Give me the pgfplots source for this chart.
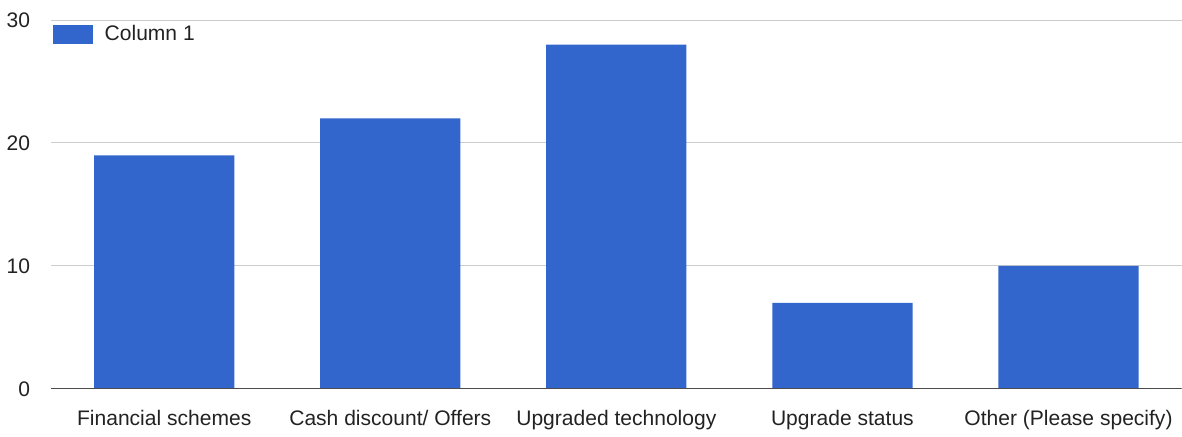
\documentclass[border=0pt]{standalone}
\usepackage{fontspec}
\setmainfont{Liberation Sans}
\usepackage{pgfplots}
\pgfplotsset{compat=1.18}
\definecolor{barblue}{HTML}{3366CC}
\definecolor{gridgray}{HTML}{CCCCCC}
\definecolor{txtgray}{HTML}{222222}

\begin{document}
\begin{tikzpicture}
\begin{axis}[
  scale only axis,
  width=564pt, height=184pt,
  xmin=-0.5, xmax=4.5,
  ymin=0, ymax=30,
  ytick={0,10,20,30},
  xtick={0,1,2,3,4},
  xticklabels={Financial schemes, Cash discount/ Offers, Upgraded technology, Upgrade status, Other (Please specify)},
  tick style={draw=none},
  ymajorgrids,
  grid style={gridgray, line width=0.5pt},
  axis line style={draw=none},
  every tick label/.append style={font=\fontsize{10.5}{12}\selectfont, text=txtgray},
  /pgf/number format/assume math mode=true,
  yticklabel style={xshift=-7pt},
  xticklabel style={yshift=-3pt},
  legend style={at={(0,1)}, anchor=north west, xshift=-2.5pt, yshift=1.5pt,
                draw=none, fill=none,
                font=\fontsize{10.5}{12}\selectfont, text=txtgray},
  legend cell align=left,
  ybar, bar width=70pt,
]
  \addplot[draw=none, fill=barblue,
    legend image code/.code={\fill[barblue] (0pt,-4.75pt) rectangle (20pt,4.75pt);
                             \path (24pt,0pt);}]
    coordinates {
    (0,19) (1,22) (2,28) (3,7) (4,10)
  };
  \addlegendentry{Column 1}
  \draw[black!70, line width=1pt] (axis cs:-0.5,0) -- (axis cs:4.5,0);
\end{axis}
\path ([yshift=10pt]current axis.north);
\end{tikzpicture}
\end{document}
